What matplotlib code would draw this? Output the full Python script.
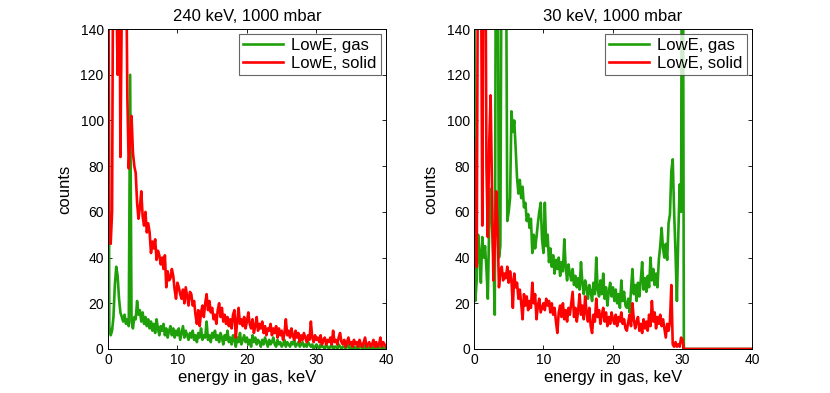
import numpy as np
import matplotlib
matplotlib.use("Agg")
import matplotlib.pyplot as plt

plt.rcParams['font.family'] = ['Liberation Sans', 'DejaVu Sans']

# energy grid, 0.2 keV bins
energy = np.linspace(0, 40, 201)

# 240 keV, 1000 mbar
gas_240 = [
    250, 10, 6, 8, 14, 28, 36, 32, 22, 16,
    14, 12, 15, 11, 13, 10, 120, 12, 9, 14,
    13, 21, 15, 17, 12, 16, 11, 14, 10, 13,
    9, 12, 8, 11, 7, 13, 9, 6, 10, 8,
    11, 6, 9, 5, 8, 10, 6, 9, 5, 8,
    6, 9, 4, 7, 10, 5, 8, 6, 4, 7,
    5, 8, 4, 6, 3, 7, 5, 9, 4, 6,
    5, 12, 4, 6, 3, 7, 5, 8, 4, 6,
    3, 7, 5, 2, 6, 4, 8, 3, 5, 2,
    6, 4, 1, 5, 3, 7, 2, 4, 6, 3,
    5, 2, 4, 1, 6, 3, 5, 2, 4, 3,
    1, 4, 2, 5, 3, 1, 4, 2, 3, 5,
    2, 1, 4, 2, 3, 1, 2, 4, 1, 3,
    2, 1, 3, 2, 4, 1, 2, 3, 1, 2,
    3, 1, 2, 1, 3, 2, 1, 2, 0, 1,
    2, 1, 0, 2, 1, 1, 0, 2, 1, 0,
    1, 2, 0, 1, 1, 0, 2, 1, 0, 1,
    1, 0, 1, 2, 0, 1, 0, 1, 0, 1,
    0, 1, 1, 0, 2, 0, 1, 0, 1, 0,
    1, 0, 0, 1, 0, 1, 0, 0, 1, 0,
    0,
]
solid_240 = [
    250, 52, 46, 60, 210, 220, 160, 120, 220, 84,
    150, 230, 220, 180, 110, 79, 92, 102, 86, 80,
    77, 64, 57, 62, 69, 58, 54, 60, 51, 55,
    51, 42, 47, 44, 48, 39, 43, 41, 37, 40,
    35, 41, 27, 34, 30, 31, 35, 32, 26, 22,
    29, 27, 24, 22, 26, 20, 27, 23, 19, 25,
    24, 19, 21, 15, 11, 17, 10, 16, 19, 14,
    20, 24, 17, 21, 16, 18, 13, 15, 11, 17,
    20, 14, 18, 12, 15, 11, 14, 10, 13, 9,
    15, 17, 5, 12, 18, 11, 13, 10, 14, 9,
    12, 16, 11, 9, 13, 7, 10, 14, 8, 11,
    9, 12, 7, 10, 6, 9, 8, 11, 6, 9,
    7, 10, 5, 9, 6, 8, 4, 7, 13, 6,
    8, 5, 9, 6, 4, 8, 5, 7, 3, 6,
    4, 7, 5, 3, 6, 4, 12, 5, 3, 6,
    4, 5, 3, 6, 2, 4, 5, 2, 4, 3,
    5, 2, 8, 3, 4, 2, 5, 7, 3, 2,
    4, 1, 3, 5, 2, 3, 1, 4, 2, 3,
    1, 4, 2, 1, 3, 5, 1, 2, 3, 1,
    2, 4, 1, 3, 1, 2, 5, 1, 3, 2,
    1,
]

# 30 keV, 1000 mbar
gas_30 = [
    250, 21, 30, 50, 42, 29, 49, 40, 45, 35,
    22, 55, 70, 54, 40, 15, 230, 200, 40, 45,
    200, 240, 230, 190, 56, 60, 66, 104, 95, 100,
    88, 75, 68, 74, 66, 71, 62, 64, 56, 59,
    53, 57, 42, 50, 44, 49, 55, 60, 64, 48,
    42, 64, 45, 50, 38, 44, 36, 41, 33, 39,
    35, 40, 32, 38, 34, 48, 36, 30, 37, 33,
    30, 35, 28, 32, 27, 31, 26, 38, 29, 24,
    30, 27, 22, 28, 25, 21, 29, 24, 40, 26,
    23, 30, 24, 33, 22, 27, 19, 25, 29, 23,
    27, 21, 26, 20, 24, 18, 30, 21, 25, 19,
    18, 22, 16, 26, 35, 24, 28, 21, 29, 23,
    30, 38, 26, 31, 25, 32, 27, 40, 30, 35,
    28, 33, 27, 39, 45, 53, 44, 40, 46, 39,
    55, 59, 78, 83, 60, 42, 21, 50, 72, 60,
    300,
] + [0] * 50
solid_30 = [
    92, 60, 36, 200, 230, 190, 54, 220, 210, 80,
    49, 90, 111, 71, 30, 45, 69, 53, 27, 34,
    36, 30, 33, 31, 36, 29, 34, 30, 18, 33,
    27, 29, 22, 26, 20, 13, 24, 19, 23, 17,
    21, 18, 29, 20, 24, 13, 19, 22, 16, 18,
    20, 17, 22, 19, 21, 16, 20, 15, 18, 12,
    7, 16, 19, 14, 20, 13, 17, 12, 18, 15,
    20, 25, 14, 18, 12, 17, 24, 15, 19, 13,
    23, 16, 12, 18, 10, 7, 15, 12, 22, 14,
    17, 11, 15, 18, 12, 16, 10, 14, 11, 16,
    13, 11, 15, 10, 14, 12, 16, 11, 13, 9,
    8, 12, 15, 10, 20, 13, 9, 12, 14, 8,
    11, 7, 13, 9, 12, 8, 15, 10, 21, 12,
    16, 9, 14, 11, 15, 10, 13, 9, 5, 11,
    8, 12, 28, 2, 1, 3, 1, 2, 1, 5,
    4,
] + [0] * 50

titles = ["240 keV, 1000 mbar", "30 keV, 1000 mbar"]
labels = ["LowE, gas", "LowE, solid"]
green = "#1fa00a"
red = "#ff0000"

fig = plt.figure(figsize=(8.3, 3.93), dpi=100)
ax1 = fig.add_axes([0.130, 0.112, 0.335, 0.814])
ax2 = fig.add_axes([0.571, 0.112, 0.335, 0.814])

for ax, title, g, s in [(ax1, titles[0], gas_240, solid_240),
                        (ax2, titles[1], gas_30, solid_30)]:
    ax.plot(energy, g, color=green, lw=1.9, label=labels[0])
    ax.plot(energy, s, color=red, lw=1.9, label=labels[1])
    ax.set_xlim(0, 40)
    ax.set_ylim(0, 140)
    ax.set_xticks([0, 10, 20, 30, 40])
    ax.set_yticks(np.arange(0, 141, 20))
    ax.tick_params(direction='in', top=True, right=True, labelsize=10,
                   length=3, width=0.6, pad=3)
    for sp in ax.spines.values():
        sp.set_linewidth(0.7)
    ax.set_xlabel("energy in gas, keV", fontsize=12, labelpad=2)
    ax.set_ylabel("counts", fontsize=12, labelpad=6)
    ax.set_title(title, fontsize=12, pad=6)
    leg = ax.legend(loc='upper right', fontsize=12, frameon=True, fancybox=False,
                    handlelength=2.4, handletextpad=0.5, borderpad=0.25,
                    labelspacing=0.15, borderaxespad=0.3)
    leg.get_frame().set_edgecolor('0.25')
    leg.get_frame().set_linewidth(0.8)

fig.savefig("out.png", dpi=100)
